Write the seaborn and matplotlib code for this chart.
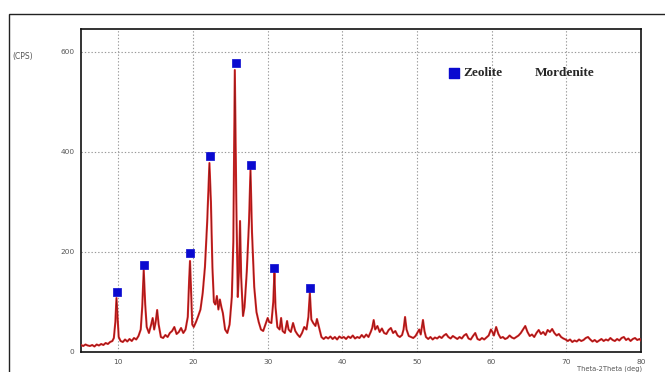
import matplotlib
matplotlib.use("Agg")
import matplotlib.pyplot as plt
from matplotlib.patches import Rectangle
from matplotlib.ticker import MultipleLocator, AutoMinorLocator
import seaborn as sns
import pandas as pd

# ---- data ----
two_theta = [5.0, 5.3, 5.6, 5.9, 6.2, 6.5, 6.8, 7.1, 7.4, 7.7, 8.0, 8.3, 8.6, 8.9, 9.2, 9.4, 9.6, 9.75, 9.9, 10.05,
             10.3, 10.6, 10.9, 11.2, 11.5, 11.8, 12.1, 12.4, 12.7, 13.0, 13.2, 13.4, 13.6, 13.8, 14.1, 14.4, 14.6, 14.8, 15.0, 15.2,
             15.4, 15.7, 16.0, 16.3, 16.6, 16.9, 17.2, 17.5, 17.8, 18.1, 18.4, 18.7, 19.0, 19.3, 19.5, 19.6, 19.75, 19.9, 20.1, 20.4,
             20.7, 21.0, 21.3, 21.6, 21.9, 22.2, 22.4, 22.6, 22.8, 23.0, 23.2, 23.4, 23.6, 23.8, 24.0, 24.3, 24.6, 24.9, 25.2, 25.4,
             25.6, 25.8, 26.0, 26.15, 26.3, 26.45, 26.7, 26.9, 27.2, 27.5, 27.7, 27.9, 28.2, 28.5, 28.8, 29.1, 29.4, 29.7, 30.0, 30.2,
             30.5, 30.75, 30.9, 31.05, 31.3, 31.6, 31.8, 32.0, 32.3, 32.6, 32.8, 33.1, 33.4, 33.7, 34.0, 34.3, 34.6, 34.9, 35.2, 35.45,
             35.65, 35.85, 36.1, 36.4, 36.6, 36.9, 37.2, 37.5, 37.8, 38.1, 38.4, 38.7, 39.0, 39.3, 39.6, 39.9, 40.2, 40.5, 40.8, 41.1,
             41.4, 41.7, 42.0, 42.3, 42.6, 42.9, 43.2, 43.5, 43.8, 44.0, 44.2, 44.4, 44.7, 45.0, 45.3, 45.6, 45.9, 46.2, 46.5, 46.8,
             47.1, 47.4, 47.7, 48.0, 48.2, 48.4, 48.6, 48.9, 49.2, 49.5, 49.8, 50.1, 50.3, 50.5, 50.8, 51.0, 51.2, 51.5, 51.8, 52.1,
             52.4, 52.7, 53.0, 53.3, 53.6, 53.9, 54.2, 54.5, 54.8, 55.1, 55.4, 55.7, 56.0, 56.3, 56.6, 56.9, 57.2, 57.5, 57.8, 58.1,
             58.4, 58.7, 59.0, 59.3, 59.6, 59.9, 60.1, 60.3, 60.6, 60.9, 61.2, 61.5, 61.8, 62.1, 62.4, 62.7, 63.0, 63.3, 63.6, 63.9,
             64.2, 64.5, 64.8, 65.1, 65.4, 65.7, 66.0, 66.3, 66.6, 66.9, 67.2, 67.5, 67.8, 68.1, 68.4, 68.7, 69.0, 69.3, 69.6, 69.9,
             70.2, 70.5, 70.8, 71.1, 71.4, 71.7, 72.0, 72.3, 72.6, 72.9, 73.2, 73.5, 73.8, 74.1, 74.4, 74.7, 75.0, 75.3, 75.6, 75.9,
             76.2, 76.5, 76.8, 77.1, 77.4, 77.7, 78.0, 78.3, 78.6, 78.9, 79.2, 79.5, 79.8, 80.0]
cps = [14, 12, 15, 13, 12, 14, 11, 15, 13, 16, 14, 18, 16, 20, 22, 28, 60, 108, 70, 30,
       22, 20, 25, 21, 26, 22, 28, 25, 32, 45, 90, 164, 95, 50, 38, 55, 68, 45, 60, 84,
       55, 30, 28, 34, 30, 38, 42, 50, 36, 40, 48, 38, 45, 70, 150, 182, 120, 55, 50, 60,
       72, 85, 118, 170, 260, 378, 300, 170, 100, 95, 112, 85, 105, 90, 78, 45, 38, 55, 110, 220,
       564, 300, 110, 160, 262, 150, 72, 90, 160, 260, 364, 240, 130, 80, 60, 45, 42, 55, 68, 60,
       58, 100, 158, 90, 50, 45, 68, 42, 38, 62, 45, 40, 58, 42, 35, 30, 38, 50, 45, 70,
       118, 65, 58, 52, 66, 48, 30, 26, 30, 27, 31, 26, 30, 25, 31, 28, 30, 26, 31, 28,
       33, 27, 30, 28, 34, 29, 35, 30, 40, 48, 64, 45, 52, 40, 47, 38, 36, 44, 48, 38,
       42, 33, 30, 34, 45, 70, 45, 32, 30, 28, 32, 40, 45, 35, 64, 42, 30, 26, 30, 25,
       29, 27, 31, 28, 33, 36, 30, 27, 32, 29, 26, 30, 27, 33, 36, 27, 25, 32, 38, 26,
       24, 28, 25, 29, 33, 45, 40, 33, 50, 36, 28, 30, 26, 28, 33, 29, 27, 30, 33, 38,
       45, 52, 40, 32, 35, 30, 38, 44, 36, 40, 34, 44, 40, 46, 38, 33, 36, 30, 27, 25,
       22, 25, 20, 23, 21, 25, 22, 24, 28, 30, 25, 21, 24, 20, 23, 26, 22, 25, 23, 28,
       24, 22, 26, 23, 28, 30, 24, 27, 22, 26, 28, 24, 26, 23]

marker_x = [9.8, 13.5, 19.6, 22.3, 25.7, 27.8, 30.9, 35.7]
marker_y = [120, 174, 198, 393, 578, 374, 168, 128]

x_ticks = [10, 20, 30, 40, 50, 60, 70, 80]
y_ticks = [0, 200, 400, 600]
legend_labels = ["Zeolite", "Mordenite"]

df = pd.DataFrame({"two_theta": two_theta, "cps": cps})
mk = pd.DataFrame({"x": marker_x, "y": marker_y})

sns.set_style("white")
plt.rcParams["font.family"] = ["DejaVu Sans"]

W, H = 665, 372
fig = plt.figure(figsize=(W / 100, H / 100), dpi=100)
ax = fig.add_axes([81 / W, (H - 352) / H, 560 / W, 323 / H])

sns.lineplot(data=df, x="two_theta", y="cps", ax=ax, color="#e02a2a", lw=1.5, zorder=3)
sns.lineplot(data=df, x="two_theta", y="cps", ax=ax, color="#5a0c0c", lw=0.5, alpha=0.7, zorder=4)
sns.scatterplot(data=mk, x="x", y="y", ax=ax, marker="s", s=40, color="#0a0ad0",
                edgecolor="#0a0ad0", zorder=5)

ax.set_xlim(5, 80)
ax.set_ylim(0, 646)
ax.set_xticks(x_ticks)
ax.set_yticks(y_ticks)
ax.xaxis.set_minor_locator(AutoMinorLocator(6))
ax.yaxis.set_minor_locator(MultipleLocator(20))
ax.tick_params(which="both", direction="out", colors="#333333", labelsize=5.3, labelcolor="#555555")
ax.tick_params(which="major", length=3.5, width=0.8, pad=1.2)
ax.tick_params(which="minor", length=2, width=0.6)
ax.set_xlabel("")
ax.set_ylabel("")
ax.grid(True, which="major", linestyle=(0, (1.2, 1.8)), color="#999999", lw=0.8)
for sp in ax.spines.values():
    sp.set_color("#111111")
    sp.set_linewidth(1.2)

# outer frame
fig.patches.append(Rectangle((9 / W, -0.2), 1.0, (H - 14) / H + 0.2, transform=fig.transFigure,
                             fill=False, edgecolor="#222222", lw=1.0))

fig.text(12 / W, (H - 56) / H, "(CPS)", fontsize=5.5, color="#555555", va="center", ha="left")
fig.text(577 / W, 0.5 / H, "Theta-2Theta (deg)", fontsize=4.8, color="#555555", va="bottom", ha="left")

# legend-like labels
ax.scatter([454 / W], [(H - 73) / H], transform=fig.transFigure, marker="s", s=60,
           color="#0a0ad0", zorder=6, clip_on=False)
fig.text(463 / W, (H - 73) / H, legend_labels[0], fontsize=9.5, fontweight="bold",
         family="Liberation Serif", va="center", ha="left")
fig.text(535 / W, (H - 73) / H, legend_labels[1], fontsize=9.5, fontweight="bold",
         family="Liberation Serif", va="center", ha="left")

fig.savefig("out.png", dpi=100)
